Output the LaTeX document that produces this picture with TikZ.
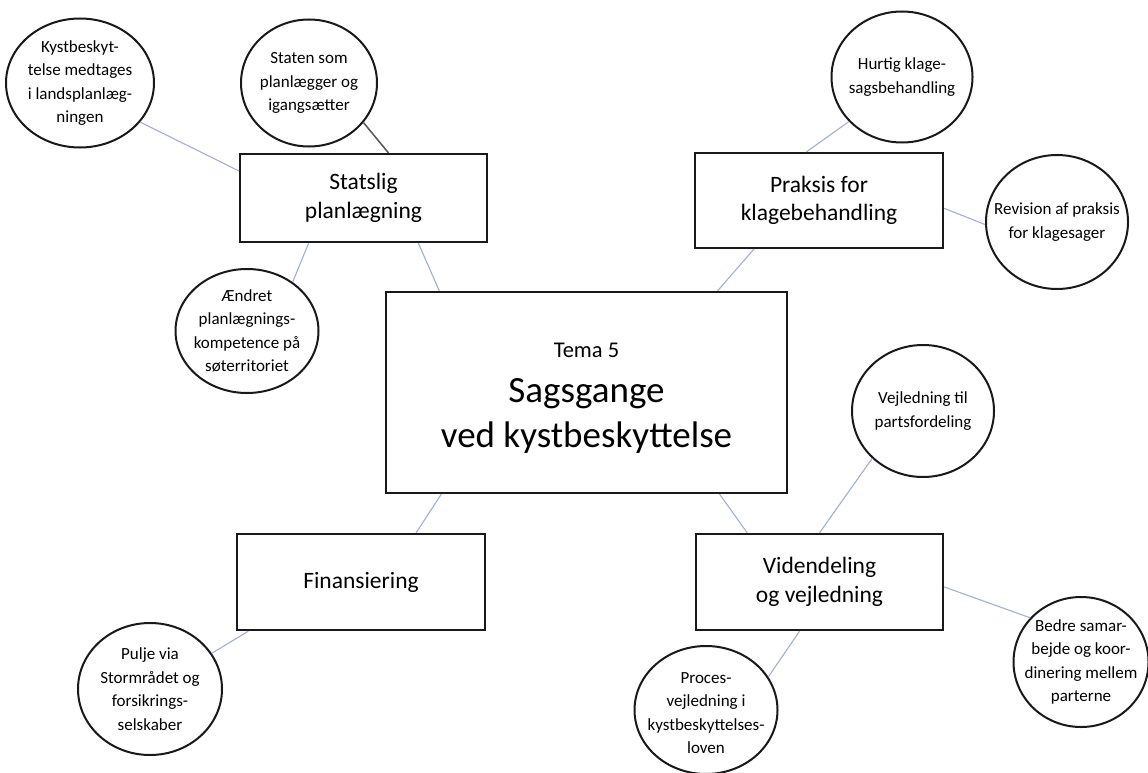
\documentclass[tikz,border=0pt]{standalone}
\usepackage{fontspec}
\setmainfont{Carlito}
\usetikzlibrary{shapes.geometric,calc}
\definecolor{linkblue}{RGB}{160,176,208}
\definecolor{linkdark}{RGB}{85,85,85}
\definecolor{edge}{RGB}{25,25,25}
\begin{document}
\begin{tikzpicture}[x=1pt,y=-1pt,
  boxnode/.style={draw=edge, line width=2.3pt, rectangle, inner sep=0pt, align=center,
    font=\fontsize{23.5}{28.5}\selectfont},
  bubble/.style={draw=edge, line width=2pt, ellipse, inner sep=0pt},
  bubtxt/.style={align=center, inner sep=0pt, font=\fontsize{17}{23.5}\selectfont},
  centtxt/.style={align=center, inner sep=0pt, font=\fontsize{37}{45}\selectfont},
  link/.style={draw=linkblue, line width=1.1pt},
  darklink/.style={draw=linkdark, line width=1.5pt}]
\useasboundingbox (0,0) rectangle (1148,773);

% central box
\node[boxnode, minimum width=401pt, minimum height=201pt,
  label={[centtxt, yshift=-6pt]center:{{\fontsize{22.5}{27}\selectfont Tema 5}\\Sagsgange\\ved kystbeskyttelse}}]
  (central) at (586.5,392.5) {};

% theme boxes
\node[boxnode, minimum width=247pt, minimum height=88pt] (stat) at (363.5,198) {Statslig\\planlægning};
\node[boxnode, minimum width=248pt, minimum height=95pt] (prak) at (819,200.5) {Praksis for\\klagebehandling};
\node[boxnode, minimum width=248pt, minimum height=96pt] (fin) at (361,582) {Finansiering};
\node[boxnode, minimum width=247pt, minimum height=96pt] (vid) at (819.5,582) {Videndeling\\og vejledning};

% bubbles
\node[bubble, minimum width=148pt, minimum height=129pt,
  label={[bubtxt]center:{Kystbeskyt-\\telse medtages\\i landsplanlæg-\\ningen}}] (kyst) at (80,83) {};
\node[bubble, minimum width=136pt, minimum height=127pt,
  label={[bubtxt]center:{Staten som\\planlægger og\\igangsætter}}] (staten) at (309,83) {};
\node[bubble, minimum width=143pt, minimum height=124pt,
  label={[bubtxt]center:{Ændret\\planlægnings-\\kompetence på\\søterritoriet}}] (aendret) at (247,331) {};
\node[bubble, minimum width=141pt, minimum height=131pt,
  label={[bubtxt]center:{Hurtig klage-\\sagsbehandling}}] (hurtig) at (902,77) {};
\node[bubble, minimum width=142pt, minimum height=134pt,
  label={[bubtxt]center:{Revision af praksis\\for klagesager}}] (revision) at (1057,222) {};
\node[bubble, minimum width=142pt, minimum height=132pt,
  label={[bubtxt]center:{Vejledning til\\partsfordeling}}] (vejl) at (923,411) {};
\node[bubble, minimum width=135pt, minimum height=130pt,
  label={[bubtxt]center:{Bedre samar-\\bejde og koor-\\dinering mellem\\parterne}}] (bedre) at (1081,662) {};
\node[bubble, minimum width=143pt, minimum height=128pt,
  label={[bubtxt, yshift=-3pt]center:{Proces-\\vejledning i\\kystbeskyttelses-\\loven}}] (proces) at (706,710) {};
\node[bubble, minimum width=144pt, minimum height=132pt,
  label={[bubtxt]center:{Pulje via\\Stormrådet og\\forsikrings-\\selskaber}}] (pulje) at (150,689) {};

% connectors
\draw[link] (kyst.-33) -- ($(stat.north west)!0.2!(stat.south west)$);
\draw[darklink] (staten.-36) -- ($(stat.north west)!0.6!(stat.north east)$);
\draw[link] (aendret.47) -- ($(stat.south west)!0.28!(stat.south east)$);
\draw[link] ($(stat.south west)!0.72!(stat.south east)$) -- ($(central.north west)!0.135!(central.north east)$);

\draw[link] ($(prak.north west)!0.45!(prak.north east)$) -- (hurtig.-140);
\draw[link] ($(prak.north east)!0.58!(prak.south east)$) -- (revision.182);
\draw[link] ($(prak.south west)!0.24!(prak.south east)$) -- ($(central.north west)!0.825!(central.north east)$);

\draw[link] ($(central.south west)!0.14!(central.south east)$) -- ($(fin.north west)!0.72!(fin.north east)$);
\draw[link] ($(central.south west)!0.83!(central.south east)$) -- ($(vid.north west)!0.21!(vid.north east)$);

\draw[link] ($(vid.north west)!0.5!(vid.north east)$) -- (vejl.-137);
\draw[link] ($(vid.north east)!0.55!(vid.south east)$) -- (bedre.139);
\draw[link] ($(vid.south west)!0.42!(vid.south east)$) -- (proces.28);
\draw[link] ($(fin.south west)!0.05!(fin.south east)$) -- (pulje.30);
\end{tikzpicture}
\end{document}
